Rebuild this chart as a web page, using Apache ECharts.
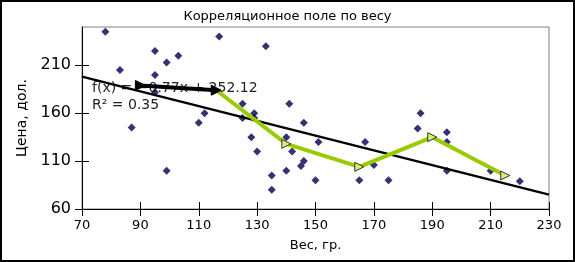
<!DOCTYPE html>
<html>
<head>
<meta charset="utf-8">
<script src="https://cdn.jsdelivr.net/npm/echarts@6/dist/echarts.min.js"></script>
<style>
html,body{margin:0;padding:0;background:#fff;}
#c{width:575px;height:262px;}
</style>
</head>
<body>
<div id="c"></div>
<script>
// Scatter data: weight (g) and price (dol.)
const weights = [78,83,87,95,95,95,99,99,103,110,112,117,125,125,128,129,129,130,133,135,135,140,140,141,142,145,146,146,150,151,165,167,170,175,185,186,195,195,195,210,220];
const prices  = [245,205,145,225,200,182,213,100,220,150,160,240,170,155,135,160,155,120,230,95,80,135,100,170,120,105,150,110,90,130,90,130,106,90,144,160,140,130,100,100,89];

// Trend line endpoints: f(x) = -0.77x + 252.12
const trendX = [70, 230];
const trendY = [198.2, 75.0];

// Averaged line (black first segment, then green)
const avgBlackX = [90, 116];
const avgBlackY = [189, 184];
const avgGreenX = [116, 140, 165, 190, 215];
const avgGreenY = [184, 128, 104, 135, 95];

const xTicks = [70, 90, 110, 130, 150, 170, 190, 210, 230];
const yTicks = [60, 110, 160, 210];

const titleText = 'Корреляционное поле по весу';
const xName = 'Вес, гр.';
const yName = 'Цена, дол.';
const eqText = 'f(x) = \u22120.77x + 252.12';
const r2Text = 'R\u00b2 = 0.35';

const zip = (a, b) => a.map((v, i) => [v, b[i]]);
const FONT = 'DejaVu Sans';
const tri = 'path://M0,0 L10,5 L0,10 Z';

const chart = echarts.init(document.getElementById('c'), null, {renderer: 'canvas'});
chart.setOption({
  backgroundColor: '#fff',
  animation: false,
  title: {
    text: titleText, left: 'center', top: 5,
    textStyle: {fontFamily: FONT, fontSize: 13, fontWeight: 'normal', color: '#000'}
  },
  grid: {left: 82, top: 27, width: 467, height: 182, show: true, borderColor: '#808080', borderWidth: 1, backgroundColor: 'transparent'},
  xAxis: [{
    type: 'value', min: 70, max: 230, interval: 20,
    name: xName, nameLocation: 'middle', nameGap: 30,
    nameTextStyle: {fontFamily: FONT, fontSize: 13, color: '#000'},
    axisLine: {show: true, lineStyle: {color: '#000', width: 1}},
    axisTick: {show: true, length: 7, lineStyle: {color: '#000'}},
    axisLabel: {fontFamily: FONT, fontSize: 13, color: '#000', margin: 10, customValues: xTicks},
    splitLine: {show: false}
  }, {
    type: 'value', min: 70, max: 230, interval: 20, position: 'bottom', gridIndex: 0,
    axisLine: {show: false}, axisLabel: {show: false}, splitLine: {show: false},
    axisTick: {show: true, inside: true, length: 7, lineStyle: {color: '#000'}}
  }],
  yAxis: [{
    type: 'value', min: 60, max: 250, interval: 50,
    name: yName, nameLocation: 'middle', nameGap: 52,
    nameTextStyle: {fontFamily: FONT, fontSize: 14, color: '#000'},
    axisLine: {show: true, lineStyle: {color: '#000', width: 1}},
    axisTick: {show: true, length: 7, customValues: yTicks, lineStyle: {color: '#000'}},
    axisLabel: {fontFamily: FONT, fontSize: 16, color: '#000', margin: 11, customValues: yTicks},
    splitLine: {show: false}
  }, {
    type: 'value', min: 60, max: 250, interval: 50, position: 'left', gridIndex: 0,
    axisLine: {show: false}, axisLabel: {show: false}, splitLine: {show: false},
    axisTick: {show: true, inside: true, length: 7, customValues: yTicks, lineStyle: {color: '#000'}}
  }],
  graphic: [
    {type: 'rect', shape: {x: 1, y: 1, width: 573, height: 260}, style: {fill: 'none', stroke: '#000', lineWidth: 2}, z: 100},
    {type: 'text', left: 92, top: 81, z: 1, style: {text: eqText, font: '14px "DejaVu Sans"', fill: '#222'}},
    {type: 'text', left: 92, top: 98, z: 1, style: {text: r2Text, font: '14px "DejaVu Sans"', fill: '#222'}}
  ],
  series: [
    {
      type: 'scatter', data: zip(weights, prices), symbol: 'diamond', symbolSize: 8,
      itemStyle: {color: '#00004d'}, z: 3
    },
    {
      type: 'line', data: zip(trendX, trendY), symbol: 'none',
      lineStyle: {color: '#000', width: 2.5}, z: 4
    },
    {
      type: 'line', data: zip(avgGreenX, avgGreenY), symbol: tri, symbolSize: 9,
      lineStyle: {color: '#99cc00', width: 4},
      itemStyle: {color: '#d6ee77', borderColor: '#333', borderWidth: 1}, z: 5
    },
    {
      type: 'line', data: zip(avgBlackX, avgBlackY), symbol: tri, symbolSize: 10,
      lineStyle: {color: '#000', width: 4},
      itemStyle: {color: '#000', borderColor: '#000'}, z: 6
    }
  ]
});
</script>
</body>
</html>
